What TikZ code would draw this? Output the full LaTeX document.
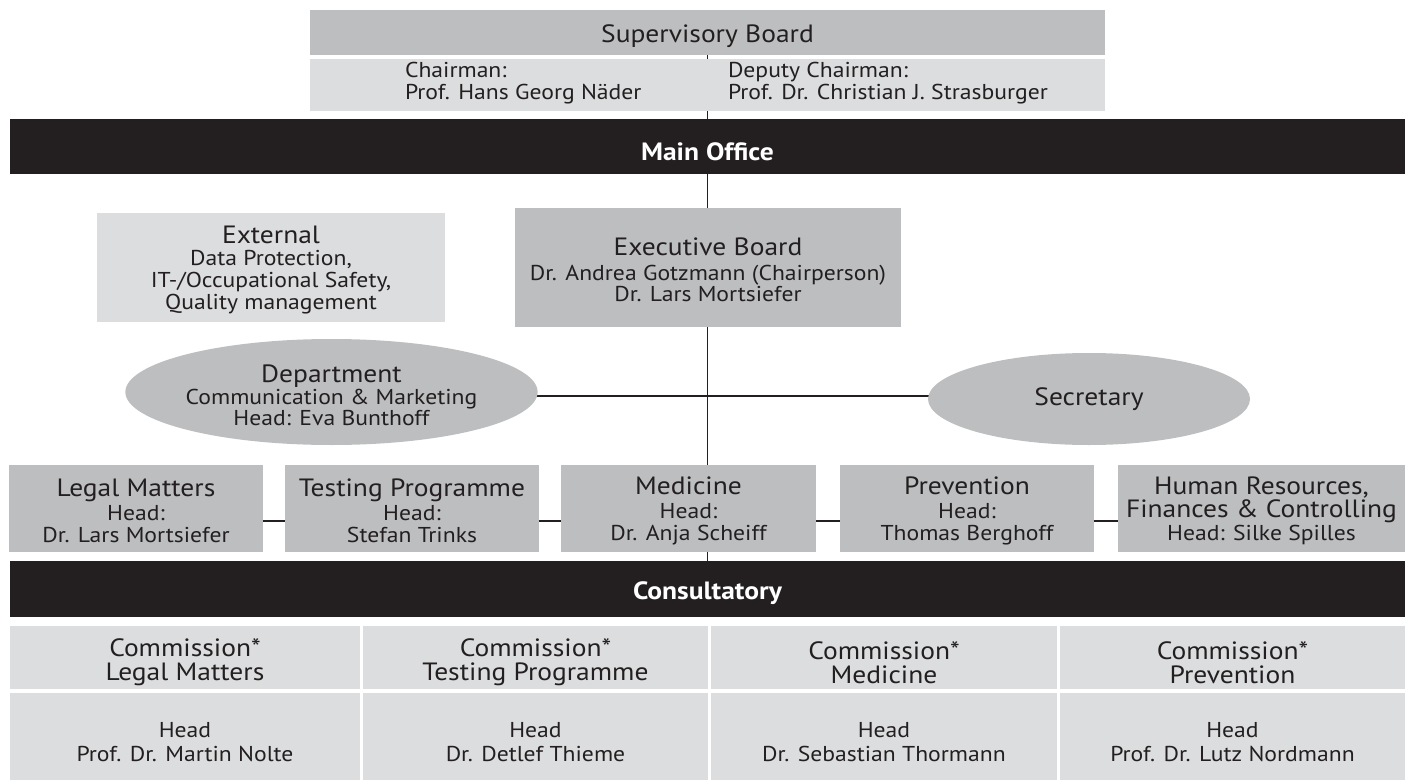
\documentclass[tikz,border=0pt]{standalone}
\usepackage{fontspec}
\setmainfont{PT Sans}[FakeStretch=1.1]
\usetikzlibrary{shapes.geometric,backgrounds}
\definecolor{dk}{HTML}{231F20}
\definecolor{gA}{HTML}{BCBEC0}
\definecolor{gB}{HTML}{DCDDDE}
\newcommand\Lf{\fontsize{25}{25}\selectfont}
\newcommand\Sf{\fontsize{21.5}{22}\selectfont}
\newcommand\Dn[1]{\rule{0pt}{#1}}
\tikzset{
  box/.style={rectangle, inner sep=0pt, outer sep=0pt, text=dk, align=center, font=\Sf},
  dkbox/.style={box, fill=gA},
  ltbox/.style={box, fill=gB},
  bar/.style={box, fill=dk, text=white, font=\fontsize{25}{25}\selectfont\bfseries},
  oval/.style={ellipse, inner sep=0pt, outer sep=0pt, fill=gA, text=dk, align=center, font=\Sf},
  ln/.style={draw=dk, line width=1.2pt},
}
\begin{document}
\begin{tikzpicture}[x=1pt,y=-1pt]
\useasboundingbox (0,0) rectangle (1413,781);
% top
\node[dkbox, minimum width=795pt, minimum height=45pt] (sbh) at (707.5,32.5) {\Lf\Dn{26pt}Supervisory Board};
\node[ltbox, minimum width=795pt, minimum height=52pt] (sbl) at (707.5,85) {};
\node[box, anchor=west, align=left] (chair) at (405,83) {Chairman:\\Prof. Hans Georg Näder};
\node[box, anchor=west, align=left] (deputy) at (728,83) {Deputy Chairman:\\Prof. Dr. Christian J. Strasburger};
\node[bar, minimum width=1395pt, minimum height=55pt] (main) at (707.5,146.5) {\Dn{28pt}Main Office};
% middle
\node[ltbox, minimum width=348pt, minimum height=109pt] (ext) at (271,267.5)
  {{\Lf\Dn{22pt}External}\\[0pt]Data Protection,\\IT-/Occupational Safety,\\Quality management};
\node[dkbox, minimum width=386pt, minimum height=119pt] (exec) at (708,267.5)
  {{\Lf\Dn{22pt}Executive Board}\\[3pt]Dr. Andrea Gotzmann (Chairperson)\\[-1pt]Dr. Lars Mortsiefer};
\node[oval, minimum width=343pt, minimum height=106pt] (dep) at (331.5,392)
  {{\Lf\Dn{24pt}Department}\\[0pt]Communication \& Marketing\\[-1pt]Head: Eva Bunthoff};
\node[oval, minimum width=322pt, minimum height=92pt] (sec) at (1089,399) {\Lf Secretary};
% row of departments
\node[dkbox, minimum width=254pt, minimum height=87pt] (legal) at (136,508.5)
  {{\Lf\Dn{22pt}Legal Matters}\\[2pt]Head:\\Dr. Lars Mortsiefer};
\node[dkbox, minimum width=254pt, minimum height=87pt] (testing) at (412,508.5)
  {{\Lf\Dn{22pt}Testing Programme}\\[2pt]Head:\\Stefan Trinks};
\node[dkbox, minimum width=255pt, minimum height=87pt] (medicine) at (688.5,508.5)
  {{\Lf\Dn{22pt}Medicine}\\[2pt]Head:\\Dr. Anja Scheiff};
\node[dkbox, minimum width=254pt, minimum height=87pt] (prevention) at (967,508.5)
  {{\Lf\Dn{22pt}Prevention}\\[2pt]Head:\\Thomas Berghoff};
\node[dkbox, minimum width=287pt, minimum height=87pt] (hr) at (1261.5,508.5)
  {{\Lf\Dn{22pt}Human Resources,}\\[1pt]{\Lf Finances \& Controlling}\\[1pt]Head: Silke Spilles};
\node[bar, minimum width=1395pt, minimum height=56pt] (cons) at (707.5,589) {\Dn{26pt}Consultatory};
% commissions
\node[ltbox, minimum width=350pt, minimum height=63pt] (c1) at (185,657.5) {{\Lf\Dn{28pt}Commission*}\\[2pt]{\Lf Legal Matters}};
\node[ltbox, minimum width=345pt, minimum height=63pt] (c2) at (535.5,657.5) {{\Lf\Dn{28pt}Commission*}\\[2pt]{\Lf Testing Programme}};
\node[ltbox, minimum width=346pt, minimum height=63pt] (c3) at (884,657.5) {{\Lf\Dn{28pt}Commission*}\\[2pt]{\Lf Medicine}};
\node[ltbox, minimum width=345pt, minimum height=63pt] (c4) at (1232.5,657.5) {{\Lf\Dn{28pt}Commission*}\\[2pt]{\Lf Prevention}};
\node[ltbox, minimum width=350pt, minimum height=87pt] (h1) at (185,736.5) {\Dn{27pt}Head\\[2pt]Prof. Dr. Martin Nolte};
\node[ltbox, minimum width=345pt, minimum height=87pt] (h2) at (535.5,736.5) {\Dn{27pt}Head\\[2pt]Dr. Detlef Thieme};
\node[ltbox, minimum width=346pt, minimum height=87pt] (h3) at (884,736.5) {\Dn{27pt}Head\\[2pt]Dr. Sebastian Thormann};
\node[ltbox, minimum width=345pt, minimum height=87pt] (h4) at (1232.5,736.5) {\Dn{27pt}Head\\[2pt]Prof. Dr. Lutz Nordmann};
% connectors
\coordinate (hy) at (0,396);
\coordinate (ry) at (0,521);
\begin{scope}[on background layer]
\draw[ln] (sbh.south) -- (main.north);
\draw[ln] (main.south) -- (cons.north);
\draw[ln] (dep.center |- hy) -- (sec.center |- hy);
\draw[ln] (legal.center |- ry) -- (hr.center |- ry);
\end{scope}
\end{tikzpicture}
\end{document}
